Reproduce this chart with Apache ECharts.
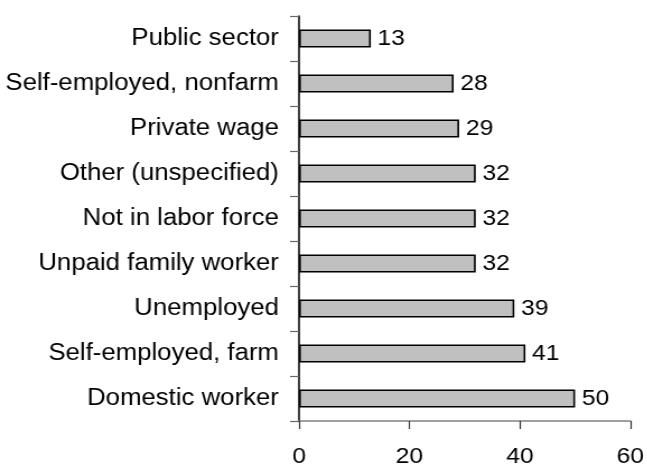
<!DOCTYPE html>
<html>
<head>
<meta charset="utf-8">
<script src="https://cdn.jsdelivr.net/npm/echarts@6/dist/echarts.min.js"></script>
<style>
  html, body { margin: 0; padding: 0; background: #fff; overflow: hidden; }
  /* the chart is laid out narrower and widened horizontally to its final 647px */
  #chart { width: 578px; height: 468px; transform: scaleX(1.12); transform-origin: 0 0; }
</style>
</head>
<body>
<div id="chart"></div>
<script>
// Categories listed from top to bottom
const categories = [
  'Public sector',
  'Self-employed, nonfarm',
  'Private wage',
  'Other (unspecified)',
  'Not in labor force',
  'Unpaid family worker',
  'Unemployed',
  'Self-employed, farm',
  'Domestic worker'
];
const values = [13, 28, 29, 32, 32, 32, 39, 41, 50];
const xTicks = [0, 20, 40, 60];

const FONT = '"Liberation Sans", Arial, Helvetica, sans-serif';

const chart = echarts.init(document.getElementById('chart'), null, { renderer: 'canvas' });
chart.setOption({
  animation: false,
  backgroundColor: '#ffffff',
  grid: { left: 267, right: 14, top: 16, bottom: 45, containLabel: false },
  xAxis: {
    type: 'value',
    min: xTicks[0],
    max: xTicks[xTicks.length - 1],
    interval: xTicks[1] - xTicks[0],
    splitLine: { show: false },
    axisLine: { show: true, lineStyle: { color: '#808080', width: 1.7 } },
    axisTick: { show: true, length: 8, lineStyle: { color: '#333333', width: 1.2 } },
    axisLabel: { color: '#000', fontFamily: FONT, fontSize: 22, margin: 25 }
  },
  yAxis: {
    type: 'category',
    data: categories,
    inverse: true,
    axisLine: { show: true, lineStyle: { color: '#000', width: 1.5 } },
    axisTick: { show: true, length: 8, alignWithLabel: false, lineStyle: { color: '#666666', width: 1.2 } },
    axisLabel: { color: '#000', fontFamily: FONT, fontSize: 23, margin: 18 }
  },
  series: [{
    type: 'bar',
    data: values,
    barWidth: 18,
    itemStyle: { color: '#c0c0c0', borderColor: '#000', borderWidth: 1.6 },
    label: {
      show: true,
      position: 'right',
      distance: 6,
      color: '#000',
      fontFamily: FONT,
      fontSize: 22
    }
  }]
});
</script>
</body>
</html>
